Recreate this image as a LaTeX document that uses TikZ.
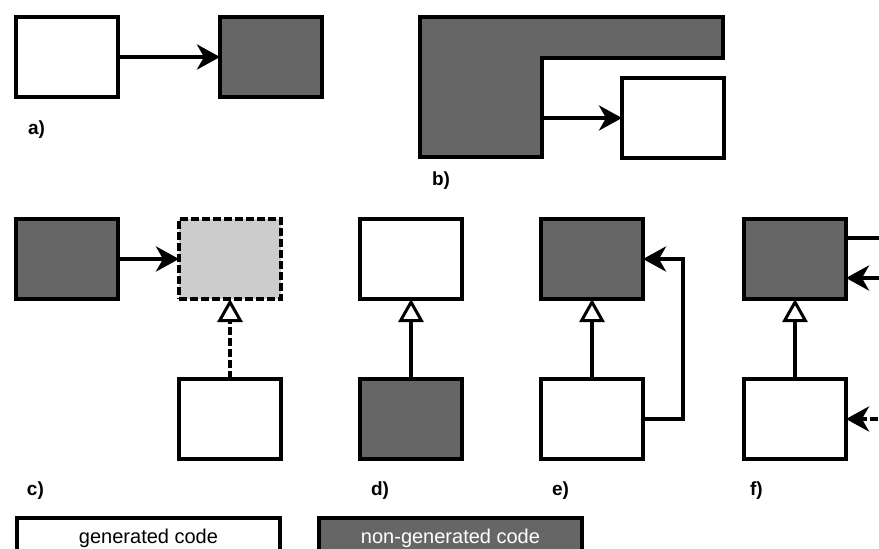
\documentclass[tikz,border=0pt]{standalone}
\usepackage{fontspec}
\setmainfont{Liberation Sans}
\usetikzlibrary{arrows.meta}
\definecolor{handcode}{HTML}{666666}
\definecolor{shadecode}{HTML}{CCCCCC}

\begin{document}
\begin{tikzpicture}[x=1pt,y=-1pt]
   \tikzstyle{every node}=[inner sep=0pt, outer sep=0pt]
   \tikzstyle{box}=[draw, line width=4.5pt, minimum width=102pt, minimum height=80pt]
   \tikzstyle{gen}=[box, fill=white]
   \tikzstyle{nongen}=[box, fill=handcode]
   \tikzstyle{virt}=[box, fill=shadecode, dash pattern=on 8pt off 3pt]
   \tikzstyle{calls}=[line width=4pt, -{Stealth[length=23pt, width=25pt, inset=7pt]}]
   \tikzstyle{extends}=[line width=4pt, -{Triangle[fill=white, length=23pt, width=25pt, line width=3pt]}]
   \tikzstyle{tag}=[anchor=base west, font=\fontsize{19}{22}\selectfont\bfseries]
   \tikzstyle{keybox}=[draw, line width=4.5pt, minimum height=40pt, font=\fontsize{20}{24}\selectfont]

\useasboundingbox (0,0) rectangle (879,549);
\clip (0,0) rectangle (879,549);

% a)
\node[gen] (a1) at (67,57) {};
\node[nongen] (a2) at (271,57) {};
\draw[calls] (a1) -- (a2);
\node[tag] (la) at (28,134) {a)};

% b)
\draw[line width=4.5pt, fill=handcode] (420,17) -- (723,17) -- (723,58) -- (542,58) -- (542,157) -- (420,157) -- cycle;
\coordinate (bin) at (542,118);
\node[gen] (b1) at (673,118) {};
\draw[calls] (bin) -- (b1);
\node[tag] (lb) at (432,185) {b)};

% c)
\node[nongen] (c1) at (67,259) {};
\node[virt] (c2) at (230,259) {};
\node[gen] (c3) at (230,419) {};
\draw[calls] (c1) -- (c2);
\draw[extends, dash pattern=on 8pt off 3pt] (c3) -- (c2);
\node[tag] (lc) at (27,495) {c)};

% d)
\node[gen] (d1) at (411,259) {};
\node[nongen] (d2) at (411,419) {};
\draw[extends] (d2) -- (d1);
\node[tag] (ld) at (371,495) {d)};

% e)
\node[nongen] (e1) at (592,259) {};
\node[gen] (e2) at (592,419) {};
\coordinate (eturn) at (683,339);
\draw[extends] (e2) -- (e1);
\draw[calls] (e2.east) -| (eturn) |- (e1.east);
\node[tag] (le) at (552,495) {e)};

% f)
\node[nongen] (f1) at (795,259) {};
\node[gen] (f2) at (795,419) {};
\coordinate (fout) at (900,238);
\coordinate (fin) at (900,278);
\coordinate (fdash) at (900,419);
\draw[extends] (f2) -- (f1);
\draw[line width=4pt] (fout -| f1.east) -- (fout);
\draw[calls] (fin) -- (fin -| f1.east);
\draw[calls, dash pattern=on 8pt off 3pt] (fdash) -- (f2);
\node[tag] (lf) at (750,495) {f)};

% legend
\node[keybox, fill=white, minimum width=263pt] (kgen) at (148.5,538) {generated code};
\node[keybox, fill=handcode, text=white, minimum width=263pt] (knon) at (450.5,538) {non-generated code};

\end{tikzpicture}
\end{document}
